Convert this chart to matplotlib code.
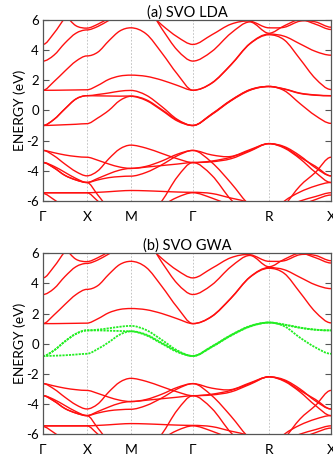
import numpy as np
import matplotlib.pyplot as plt
from matplotlib.path import Path
from matplotlib.patches import PathPatch

plt.rcParams['font.family'] = ['Lato', 'DejaVu Sans']
plt.rcParams['axes.unicode_minus'] = False

# high-symmetry path (simple cubic), segment lengths in units of 2pi/a
kpath_labels = ['Γ', 'X', 'M', 'Γ', 'R', 'X']
seg_len = [0.5, 0.5, 0.707, 0.866, 0.707]

# bands: 5 samples per segment (Γ..X..M..Γ..R..X), 21 values each
t2g_lda = [
    [-1.0, -0.98, -0.95, -0.92, -0.88, -0.5, 0.0, 0.65, 0.93, 0.65, 0.0, -0.7, -1.0, -0.25, 0.65, 1.35, 1.58, 1.3, 0.45, -0.35, -0.86],
    [-1.0, -0.6, 0.1, 0.75, 0.97, 0.96, 0.95, 0.94, 0.95, 0.7, 0.05, -0.65, -1.0, -0.23, 0.67, 1.37, 1.58, 1.4, 1.12, 1.0, 0.97],
    [-1.0, -0.6, 0.1, 0.75, 0.97, 1.05, 1.15, 1.27, 1.32, 1.0, 0.25, -0.6, -1.0, -0.27, 0.63, 1.33, 1.58, 1.42, 1.14, 1.02, 0.97],
]
t2g_gw = [
    [-0.82, -0.8, -0.77, -0.72, -0.67, -0.35, 0.1, 0.6, 0.82, 0.55, 0.0, -0.55, -0.82, -0.2, 0.55, 1.15, 1.4, 1.15, 0.4, -0.25, -0.67],
    [-0.82, -0.45, 0.15, 0.65, 0.88, 0.88, 0.86, 0.84, 0.82, 0.6, 0.05, -0.5, -0.82, -0.18, 0.57, 1.17, 1.4, 1.25, 1.05, 0.92, 0.88],
    [-0.82, -0.45, 0.15, 0.65, 0.88, 0.93, 1.02, 1.12, 1.18, 0.9, 0.25, -0.45, -0.82, -0.22, 0.53, 1.13, 1.4, 1.27, 1.07, 0.93, 0.88],
]
eg_bands = [
    [1.33, 1.33, 1.34, 1.35, 1.36, 1.65, 2.05, 2.27, 2.33, 2.25, 2.0, 1.65, 1.33, 1.8, 3.0, 4.4, 5.0, 4.65, 3.4, 2.1, 1.38],
    [1.33, 1.9, 2.6, 3.25, 3.6, 3.85, 4.6, 5.25, 5.46, 5.05, 3.8, 2.4, 1.33, 1.82, 3.02, 4.42, 5.05, 4.9, 4.4, 3.9, 3.65],
]
upper_bands = [
    [3.26, 3.65, 4.45, 5.1, 5.32, 5.55, 5.95, 6.3, 6.5, 6.9, 5.4, 3.98, 3.26, 3.9, 5.1, 5.85, 5.1, 5.6, 6.0, 5.7, 5.35],
    [4.36, 5.1, 6.1, 6.8, 7.0, 7.2, 7.4, 7.6, 7.5, 6.6, 5.65, 4.86, 4.36, 5.0, 5.7, 5.9, 5.46, 5.5, 5.9, 5.85, 5.5],
    [7.0, 6.8, 6.3, 5.6, 5.44, 5.7, 6.1, 6.5, 6.8, 7.0, 7.0, 7.0, 7.0, 7.0, 7.0, 7.0, 7.0, 7.0, 7.0, 7.0, 7.0],
]
o2p_bands = [
    [-2.65, -2.8, -2.95, -3.05, -3.1, -3.3, -3.55, -3.75, -3.84, -3.7, -3.35, -2.9, -2.65, -2.95, -3.05, -2.6, -2.2, -2.4, -3.0, -3.8, -4.33],
    [-2.65, -3.0, -3.55, -4.05, -4.33, -4.0, -3.2, -2.55, -2.3, -2.5, -2.85, -3.2, -3.45, -4.3, -5.9, -7.0, -7.5, -6.3, -5.0, -4.1, -3.1],
    [-3.45, -3.7, -4.1, -4.5, -4.77, -4.5, -4.2, -3.95, -3.84, -3.75, -3.65, -3.55, -3.45, -3.35, -3.1, -2.65, -2.2, -2.5, -3.2, -4.1, -4.77],
    [-3.45, -3.8, -4.3, -4.6, -4.77, -4.6, -4.45, -4.38, -4.35, -4.1, -3.6, -3.0, -2.65, -3.45, -4.8, -6.3, -7.0, -6.0, -5.4, -5.0, -4.77],
    [-5.45, -5.45, -5.45, -5.45, -5.45, -5.42, -5.38, -5.33, -5.3, -5.32, -5.36, -5.4, -5.42, -5.5, -5.8, -6.1, -6.6, -6.4, -6.0, -5.7, -5.45],
    [-5.5, -5.9, -6.4, -6.8, -7.0, -7.0, -7.0, -7.0, -7.0, -6.8, -6.3, -5.75, -5.45, -5.8, -6.3, -6.8, -7.0, -6.8, -6.3, -5.9, -5.6],
    [-7.0, -7.0, -7.0, -7.0, -7.0, -7.0, -7.0, -7.0, -8.5, -7.2, -6.0, -4.4, -3.45, -3.4, -3.2, -2.7, -2.2, -2.45, -3.1, -3.7, -4.33],
    [-3.45, -3.8, -4.3, -4.6, -4.77, -5.6, -6.5, -7.0, -7.2, -7.2, -7.2, -7.2, -7.2, -7.2, -7.2, -7.2, -7.2, -7.2, -7.2, -7.2, -7.2],
    [-5.45, -5.45, -5.45, -5.45, -5.45, -6.0, -6.6, -7.0, -7.2, -7.2, -7.2, -7.2, -7.2, -7.2, -7.2, -7.2, -7.2, -7.2, -7.2, -7.2, -7.2],
]
red_bands = eg_bands + upper_bands + o2p_bands

nodes = np.concatenate([[0], np.cumsum(seg_len)])
k = np.concatenate([np.linspace(nodes[i], nodes[i + 1], 5)[:-1] for i in range(len(seg_len))] + [[nodes[-1]]])
node_idx = set(range(0, len(k), 4))


def band_path(x, y):
    """Smooth curve through the read points (flat at the high-symmetry points)."""
    y = np.asarray(y, dtype=float)
    n = len(x)
    m = np.zeros(n)
    for i in range(1, n - 1):
        if i not in node_idx:
            m[i] = (y[i + 1] - y[i - 1]) / (x[i + 1] - x[i - 1])
    verts = [(x[0], y[0])]
    codes = [Path.MOVETO]
    for i in range(n - 1):
        dx = x[i + 1] - x[i]
        verts += [(x[i] + dx / 3, y[i] + m[i] * dx / 3),
                  (x[i + 1] - dx / 3, y[i + 1] - m[i + 1] * dx / 3),
                  (x[i + 1], y[i + 1])]
        codes += [Path.CURVE4] * 3
    return Path(verts, codes)


def draw_band(ax, y, **kw):
    ax.add_patch(PathPatch(band_path(k, y), fill=False, **kw))


fig = plt.figure(figsize=(3.33, 4.57), dpi=100)
ax_a = fig.add_axes([0.129, 0.560, 0.865, 0.397])
ax_b = fig.add_axes([0.129, 0.050, 0.865, 0.396])


def setup(ax, title):
    for x in nodes[1:-1]:
        ax.axvline(x, color='#bbbbbb', lw=0.6, ls=(0, (2, 2)), zorder=0)
    ax.set_xlim(nodes[0], nodes[-1])
    ax.set_ylim(-6, 6)
    ax.set_yticks(np.arange(-6, 7, 2))
    ax.set_xticks(nodes)
    ax.set_xticklabels(kpath_labels)
    ax.tick_params(axis='x', length=0, pad=7, labelsize=10)
    ax.tick_params(axis='y', direction='in', length=4, right=True, labelsize=9.5, pad=3, color='#555555')
    for s in ax.spines.values():
        s.set_color('#555555')
        s.set_linewidth(0.9)
    ax.set_ylabel('ENERGY (eV)', fontsize=10, labelpad=0)
    ax.set_title(title, fontsize=10.5, pad=2)


# (a) LDA
setup(ax_a, '(a) SVO LDA')
for band in red_bands + t2g_lda:
    draw_band(ax_a, band, edgecolor='#ff1010', lw=1.0)

# (b) GWA
setup(ax_b, '(b) SVO GWA')
for band in red_bands:
    draw_band(ax_b, band, edgecolor='#ff1010', lw=1.0)
for band in t2g_gw:
    draw_band(ax_b, band, edgecolor='#22ee22', lw=1.3, linestyle=(0, (1.2, 0.6)))

fig.savefig('out.png', dpi=100)
